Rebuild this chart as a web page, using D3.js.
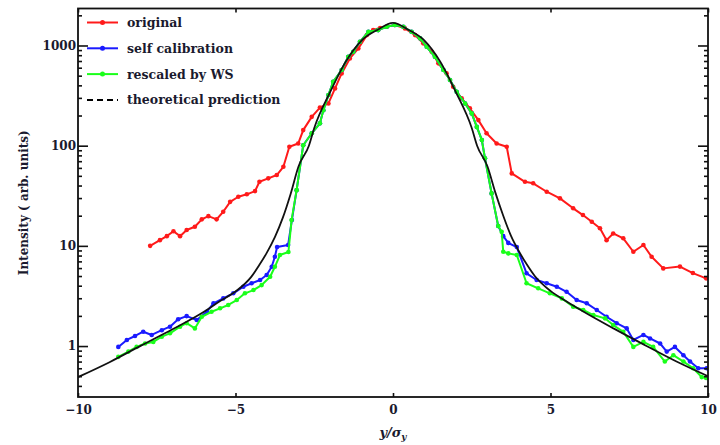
<!DOCTYPE html>
<html>
<head>
<meta charset="utf-8">
<script src="https://cdn.jsdelivr.net/npm/d3@7"></script>
<style>
  body { margin: 0; background: #fff; }
  svg text { font-family: "DejaVu Serif", serif; fill: #1a1a2e; }
</style>
</head>
<body>
<svg id="chart"></svg>
<script>
// --- data ---
let origX = [-7.71,-7.40,-7.18,-6.97,-6.76,-6.55,-6.29,-6.07,-5.86,-5.60,-5.39,-5.17,-4.91,-4.64,-4.38,-4.24,-3.96,-3.69,-3.48,-3.29,-3.01,-2.85,-2.58,-2.32,-2.05,-1.84,-1.63,-1.37,-1.10,-0.83,-0.63,-0.41,-0.20,0.06,0.38,0.70,0.96,1.23,1.44,1.70,1.91,2.18,2.44,2.71,2.97,3.29,3.61,3.77,4.19,4.45,4.88,5.30,5.72,6.03,6.31,6.57,6.78,6.99,7.31,7.63,7.95,8.21,8.58,9.11,9.52,9.94]
let origY = [10.0,11.4,12.5,14.0,12.5,14.4,15.5,18.4,19.8,18.4,21.9,27.5,30.9,32.7,35.2,43.6,47.2,50.9,61.6,97.6,105,143,194,240,264,373,526,742,934,1270,1425,1492,1538,1600,1481,1270,1050,865,663,527,387,297,236,180,133,105,97.5,52.9,43.6,42.1,34.7,29.8,23.7,20.3,17.4,15.0,11.4,13.3,11.9,8.73,10.2,7.78,5.96,6.21,5.35,4.74]

let selfX = [-8.72,-8.45,-8.19,-7.93,-7.66,-7.34,-7.08,-6.82,-6.55,-6.23,-5.91,-5.70,-5.39,-5.07,-4.75,-4.49,-4.22,-4.01,-3.85,-3.75,-3.68,-3.33,-3.21,-3.06,-2.85,-2.58,-2.32,-2.21,-2.05,-1.90,-1.63,-1.42,-1.26,-1.05,-0.78,-0.47,-0.20,0.06,0.33,0.59,0.86,1.07,1.33,1.60,1.81,2.02,2.29,2.50,2.66,2.82,2.92,3.13,3.34,3.50,3.66,3.93,4.24,4.56,4.88,5.20,5.51,5.83,6.15,6.47,6.78,7.10,7.42,7.63,7.95,8.16,8.48,8.69,8.95,9.22,9.43,9.69,9.96]
let selfY = [0.98,1.15,1.26,1.39,1.29,1.44,1.56,1.85,1.99,1.82,2.20,2.67,2.99,3.36,3.91,4.23,4.56,5.11,6.18,7.78,9.73,10.2,18.1,36,101,133,167,226,320,434,569,771,865,1089,1371,1425,1538,1600,1538,1371,1178,971,771,569,452,345,264,210,154,114,74.7,33.4,15.8,12.5,10.7,9.73,5.32,4.56,4.23,3.91,3.48,2.88,2.67,2.29,1.96,1.69,1.50,1.15,1.29,1.19,1.06,0.88,0.98,0.81,0.70,0.60,0.60]

let wsX = [-8.72,-8.40,-8.14,-7.87,-7.61,-7.34,-7.08,-6.76,-6.55,-6.29,-6.07,-5.76,-5.49,-5.23,-4.96,-4.70,-4.43,-4.17,-3.90,-3.75,-3.59,-3.32,-3.22,-3.06,-2.85,-2.58,-2.32,-2.21,-2.05,-1.90,-1.63,-1.42,-1.26,-1.05,-0.78,-0.47,-0.20,0.06,0.33,0.59,0.86,1.07,1.33,1.60,1.81,2.02,2.29,2.50,2.66,2.82,2.92,3.13,3.34,3.45,3.50,3.66,3.93,4.24,4.61,4.98,5.36,5.72,6.04,6.36,6.73,6.99,7.31,7.63,7.95,8.26,8.63,8.90,9.22,9.53,9.80,9.94]
let wsY = [0.78,0.88,0.98,1.06,1.10,1.24,1.34,1.56,1.69,1.50,1.96,2.20,2.38,2.57,2.88,3.36,3.62,4.06,4.92,6.18,8.1,8.67,18.1,36,101,133,167,226,320,434,569,771,865,1089,1371,1425,1538,1600,1538,1371,1178,971,771,569,452,345,264,210,154,114,74.7,33.4,15.8,13.8,8.73,8.41,8.1,4.23,3.77,3.36,2.99,2.47,2.29,2.04,1.89,1.62,1.39,0.98,1.10,0.98,0.70,0.81,0.70,0.60,0.49,0.48]

let theoX = [-10,-9,-8,-7,-6,-5.5,-5,-4.5,-4.25,-4,-3.75,-3.5,-3.25,-3,-2.67,-2.5,-2,-1.5,-1,-0.5,0,0.5,1,1.5,2,2.5,2.67,3,3.25,3.5,3.75,4,4.25,4.5,5,5.5,6,7,8,9,10]
let theoY = [0.49,0.69,1.01,1.47,2.2,2.8,3.5,4.9,6.4,8.6,12.2,19,33,62,100,150,340,690,1120,1430,1680,1430,1120,690,340,150,100,62,34,20,12.5,8.8,6.5,5.0,3.55,2.8,2.25,1.5,1.02,0.7,0.5]

let xTicks = [-10,-5,0,5,10]
let yTicks = [1,10,100,1000]
let legendNames = ['original','self calibration','rescaled by WS','theoretical prediction']
let colors = ['#ff1a1a','#1a1aff','#1aff1a','#000000']

// --- layout ---
let width = 720
let height = 445
let pLeft = 78, pRight = 708, pTop = 8.5, pBottom = 397

let svg = d3.select('#chart').attr('width', width).attr('height', height)

let xScale = d3.scaleLinear().domain([-10, 10]).range([pLeft, pRight])
let yScale = d3.scaleLog().domain([0.31, 2340]).range([pBottom, pTop])

let zip = (xs, ys) => xs.map((x, i) => [x, ys[i]])

let clip = svg.append('clipPath').attr('id', 'plotclip')
clip.append('rect').attr('x', pLeft).attr('y', pTop).attr('width', pRight - pLeft).attr('height', pBottom - pTop)

let line = d3.line().x(d => xScale(d[0])).y(d => yScale(d[1]))

let plot = svg.append('g').attr('clip-path', 'url(#plotclip)')

let drawSeries = (data, color) => {
    plot.append('path')
        .datum(data)
        .attr('d', line)
        .attr('fill', 'none')
        .attr('stroke', color)
        .attr('stroke-width', 2)
        .attr('stroke-linejoin', 'round')
    plot.selectAll(null)
        .data(data)
        .enter()
        .append('circle')
        .attr('cx', d => xScale(d[0]))
        .attr('cy', d => yScale(d[1]))
        .attr('r', 2.3)
        .attr('fill', color)
}

drawSeries(zip(origX, origY), colors[0])
drawSeries(zip(selfX, selfY), colors[1])
drawSeries(zip(wsX, wsY), colors[2])

plot.append('path')
    .datum(zip(theoX, theoY))
    .attr('d', d3.line().x(d => xScale(d[0])).y(d => yScale(d[1])).curve(d3.curveMonotoneX))
    .attr('fill', 'none')
    .attr('stroke', '#111')
    .attr('stroke-width', 1.8)

// --- axes: ticks pointing inward on all four sides ---
let yMinor = yScale.ticks().filter(v => yTicks.indexOf(v) < 0)

let leftAxis = d3.axisLeft(yScale).tickValues(yTicks).tickSize(-10).tickPadding(2).tickFormat(d3.format('d'))
let leftMinor = d3.axisLeft(yScale).tickValues(yMinor).tickSize(-4).tickFormat('')
let rightAxis = d3.axisRight(yScale).tickValues(yTicks).tickSize(-10).tickFormat('')
let rightMinor = d3.axisRight(yScale).tickValues(yMinor).tickSize(-4).tickFormat('')
let bottomAxis = d3.axisBottom(xScale).tickValues(xTicks).tickSize(-4).tickPadding(8)
    .tickFormat(d => d < 0 ? '\u2212' + Math.abs(d) : d)
let topAxis = d3.axisTop(xScale).tickValues(xTicks).tickSize(-4).tickFormat('')

let styleAxis = g => {
    g.select('.domain').remove()
    g.selectAll('line').attr('stroke', '#111').attr('stroke-width', 1.6)
    g.selectAll('text').attr('font-size', 12).attr('font-weight', 'bold').attr('fill', '#1a1a2e')
        .attr('font-family', '"DejaVu Serif", serif')
}

svg.append('g').attr('transform', 'translate(' + pLeft + ',0)').call(leftAxis).call(styleAxis)
svg.append('g').attr('transform', 'translate(' + pLeft + ',0)').call(leftMinor).call(styleAxis)
svg.append('g').attr('transform', 'translate(' + pRight + ',0)').call(rightAxis).call(styleAxis)
svg.append('g').attr('transform', 'translate(' + pRight + ',0)').call(rightMinor).call(styleAxis)
svg.append('g').attr('transform', 'translate(0,' + pBottom + ')').call(bottomAxis).call(styleAxis)
svg.append('g').attr('transform', 'translate(0,' + pTop + ')').call(topAxis).call(styleAxis)

svg.append('rect')
    .attr('x', pLeft).attr('y', pTop)
    .attr('width', pRight - pLeft).attr('height', pBottom - pTop)
    .attr('fill', 'none')
    .attr('stroke', '#111')
    .attr('stroke-width', 1.8)

// --- axis titles ---
let xt = svg.append('text')
    .attr('x', 393).attr('y', 437)
    .attr('text-anchor', 'middle')
    .attr('font-size', 13).attr('font-weight', 'bold').attr('font-style', 'italic')
xt.append('tspan').text('y/\u03c3')
xt.append('tspan').attr('font-size', 9).attr('dy', 3).text('y')

svg.append('text')
    .attr('transform', 'translate(28,' + ((pTop + pBottom) / 2) + ') rotate(-90)')
    .attr('text-anchor', 'middle')
    .attr('font-size', 12).attr('font-weight', 'bold')
    .text('Intensity ( arb. units)')

// --- legend ---
let legend = svg.append('g')
legendNames.forEach((name, i) => {
    let y = 22.5 + i * 25.8
    let row = legend.append('g')
    row.append('line')
        .attr('x1', 87).attr('x2', 118).attr('y1', y).attr('y2', y)
        .attr('stroke', colors[i])
        .attr('stroke-width', 2)
        .attr('stroke-dasharray', i == 3 ? '6,4' : null)
    if (i < 3) {
        row.append('circle').attr('cx', 102.5).attr('cy', y).attr('r', 2.5).attr('fill', colors[i])
    }
    row.append('text')
        .attr('x', 127).attr('y', y + 4.5)
        .attr('font-size', 12.5).attr('font-weight', 'bold')
        .text(name)
})
</script>
</body>
</html>
